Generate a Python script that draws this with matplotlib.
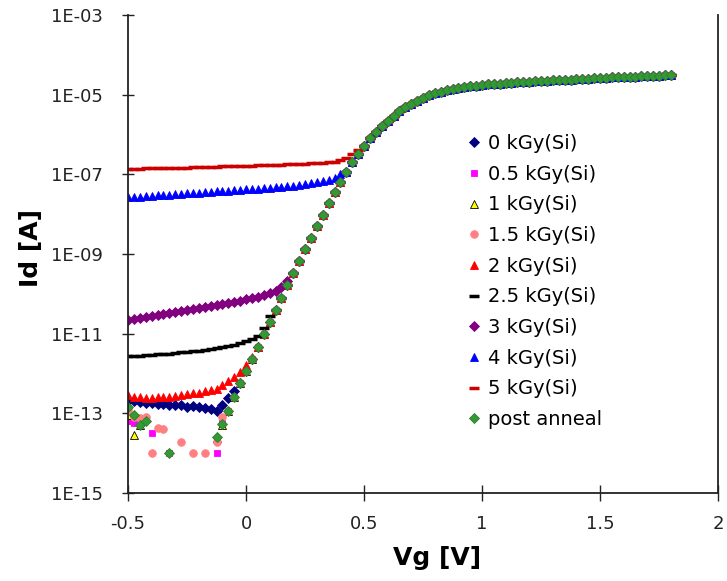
import numpy as np
import matplotlib
matplotlib.use("Agg")
import matplotlib.pyplot as plt
from matplotlib.ticker import FixedLocator, FuncFormatter

nan = np.nan

# gate sweep, 25 mV steps
vg = np.round(np.arange(-0.5, 1.8 + 1e-9, 0.025), 3)

# log10(Id) shared by every curve once it is above its leakage floor,
# from Vg = -0.125 V up to 1.8 V
on_state = [
    -13.60, -13.28, -12.95, -12.60, -12.25, -11.93, -11.63, -11.33,
    -11.00, -10.70, -10.40, -10.10, -9.79, -9.48, -9.18, -8.88,
    -8.59, -8.30, -8.01, -7.72, -7.45, -7.19, -6.94, -6.70,
    -6.48, -6.28, -6.10, -5.93, -5.78, -5.65, -5.53, -5.42,
    -5.32, -5.23, -5.15, -5.08, -5.02, -4.97, -4.93, -4.89,
    -4.86, -4.83, -4.81, -4.79, -4.77, -4.75, -4.74, -4.73,
    -4.72, -4.71, -4.70, -4.69, -4.68, -4.675, -4.665, -4.66,
    -4.65, -4.64, -4.635, -4.625, -4.62, -4.61, -4.605, -4.595,
    -4.59, -4.58, -4.575, -4.565, -4.56, -4.555, -4.55, -4.545,
    -4.54, -4.535, -4.53, -4.52, -4.515, -4.51,
]
ON_START = 15  # index of Vg = -0.125 V

# log10(Id) before each curve joins on_state (starting at Vg = -0.5 V)
low_0 = [-12.70, -12.69, -12.72, -12.74, -12.73, -12.76, -12.77, -12.79,
         -12.80, -12.78, -12.83, -12.81, -12.85, -12.87, -12.90, -12.94,
         -12.80, -12.62, -12.45]
low_05 = [-13.18, -13.25, nan, nan, -13.50, nan, nan, -14.0,
          nan, nan, nan, nan, nan, nan, nan, -14.0, -13.25]
low_1 = [-13.05, -13.55, -13.30, nan, nan, nan, nan, nan,
         nan, nan, nan, nan, nan, nan, nan, -13.62, -13.30]
low_15 = [-12.92, -13.08, -13.12, -13.08, -14.0, -13.37, -13.39, nan,
          nan, -13.71, nan, -14.0, nan, -14.0, nan, -13.71, -13.10, -12.95]
low_2 = [-12.55, -12.58, -12.60, -12.61, -12.61, -12.60, -12.59, -12.58,
         -12.56, -12.54, -12.52, -12.50, -12.48, -12.45, -12.42, -12.38,
         -12.30, -12.20, -12.08, -11.95, -11.78, -11.58]
low_25 = [-11.57, -11.56, -11.55, -11.54, -11.53, -11.52, -11.51, -11.50,
          -11.48, -11.47, -11.46, -11.44, -11.43, -11.41, -11.39, -11.37,
          -11.34, -11.31, -11.28, -11.24, -11.19, -11.13, -11.05, -10.85,
          -10.55]
low_3 = [-10.66, -10.63, -10.61, -10.58, -10.56, -10.53, -10.51, -10.48,
         -10.46, -10.43, -10.41, -10.39, -10.36, -10.34, -10.31, -10.29,
         -10.26, -10.23, -10.20, -10.17, -10.14, -10.10, -10.07, -10.03,
         -9.99, -9.93, -9.84, -9.68]
low_4 = [-7.58, -7.57, -7.56, -7.55, -7.54, -7.53, -7.52, -7.51,
         -7.50, -7.49, -7.48, -7.47, -7.46, -7.45, -7.44, -7.43,
         -7.42, -7.41, -7.40, -7.39, -7.38, -7.37, -7.36, -7.35,
         -7.34, -7.33, -7.32, -7.30, -7.29, -7.27, -7.25, -7.23,
         -7.20, -7.17, -7.13, -7.08, -6.98]
low_5 = [-6.86, -6.86, -6.855, -6.85, -6.85, -6.845, -6.84, -6.84,
         -6.835, -6.83, -6.83, -6.825, -6.82, -6.815, -6.81, -6.81,
         -6.80, -6.80, -6.795, -6.79, -6.785, -6.78, -6.775, -6.77,
         -6.765, -6.76, -6.755, -6.75, -6.745, -6.74, -6.73, -6.725,
         -6.72, -6.71, -6.70, -6.68, -6.64, -6.58, -6.48, -6.38]
low_anneal = [-12.85, -13.05, -13.30, -13.20, nan, nan, nan, -14.0,
              nan, nan, nan, nan, nan, nan, nan]

labels = ['0 kGy(Si)', '0.5 kGy(Si)', '1 kGy(Si)', '1.5 kGy(Si)', '2 kGy(Si)',
          '2.5 kGy(Si)', '3 kGy(Si)', '4 kGy(Si)', '5 kGy(Si)', 'post anneal']
lows = [low_0, low_05, low_1, low_15, low_2, low_25, low_3, low_4, low_5,
        low_anneal]

# marker, face colour, edge colour, size
styles = [
    ('D', '#000080', '#000080', 5),
    ('s', '#FF00FF', '#FF00FF', 5),
    ('^', '#FFFF00', '#000000', 5.5),
    ('o', '#FF8080', '#FF8080', 5.5),
    ('^', '#FF0000', '#FF0000', 5.5),
    ('_', '#000000', '#000000', 7),
    ('D', '#800080', '#800080', 5),
    ('^', '#0000FF', '#0000FF', 5.5),
    ('_', '#CC0000', '#CC0000', 7),
    ('D', '#339933', '#2E7D2E', 5.5),
]


def full_curve(low):
    logs = np.array(low + on_state[len(low) - ON_START:], dtype=float)
    return 10.0 ** logs


plt.rcParams['font.family'] = 'DejaVu Sans'
fig = plt.figure(figsize=(7.27, 5.81), dpi=100)
ax = fig.add_axes([128 / 727, 1 - 493 / 581, 590 / 727, 478 / 581])

for lab, low, (mk, fc, ec, ms) in zip(labels, lows, styles):
    mew = 2.5 if mk == '_' else 0.6
    ax.plot(vg, full_curve(low), linestyle='none', marker=mk, ms=ms,
            markerfacecolor=fc, markeredgecolor=ec, markeredgewidth=mew,
            label=lab)

ax.set_yscale('log')
ax.set_ylim(1e-15, 1e-3)
ax.set_xlim(-0.5, 2)
ax.yaxis.set_major_locator(FixedLocator([10.0 ** k for k in range(-15, -2, 2)]))
ax.yaxis.set_minor_locator(FixedLocator([]))
ax.yaxis.set_major_formatter(
    FuncFormatter(lambda v, p: '1E-%02d' % int(round(-np.log10(v)))))
ax.xaxis.set_major_locator(FixedLocator([-0.5, 0, 0.5, 1, 1.5, 2]))
ax.xaxis.set_major_formatter(FuncFormatter(lambda v, p: '%g' % v))

ax.tick_params(axis='y', direction='inout', length=8, width=1, labelsize=13,
               pad=14, colors='#222222')
ax.tick_params(axis='x', direction='inout', length=11, width=1, labelsize=13,
               pad=10, colors='#222222')
for side in ['left', 'bottom', 'right']:
    ax.spines[side].set_linewidth(1.3)
    ax.spines[side].set_color('#222222')
ax.spines['top'].set_visible(False)

fig.text(31 / 727, 1 - 248 / 581, 'Id [A]', rotation=90, ha='center',
         va='center', fontsize=18, fontweight='bold')
fig.text(437 / 727, 1 - 558 / 581, 'Vg [V]', ha='center', va='center',
         fontsize=18, fontweight='bold')

ax.legend(loc='upper left', bbox_to_anchor=(464 / 727, 1 - 134 / 581),
          bbox_transform=fig.transFigure, frameon=False, fontsize=14,
          handlelength=1.0, handletextpad=0.25, borderpad=0,
          borderaxespad=0, labelspacing=0.6, markerscale=1.0)

fig.savefig('out.png', dpi=100)
